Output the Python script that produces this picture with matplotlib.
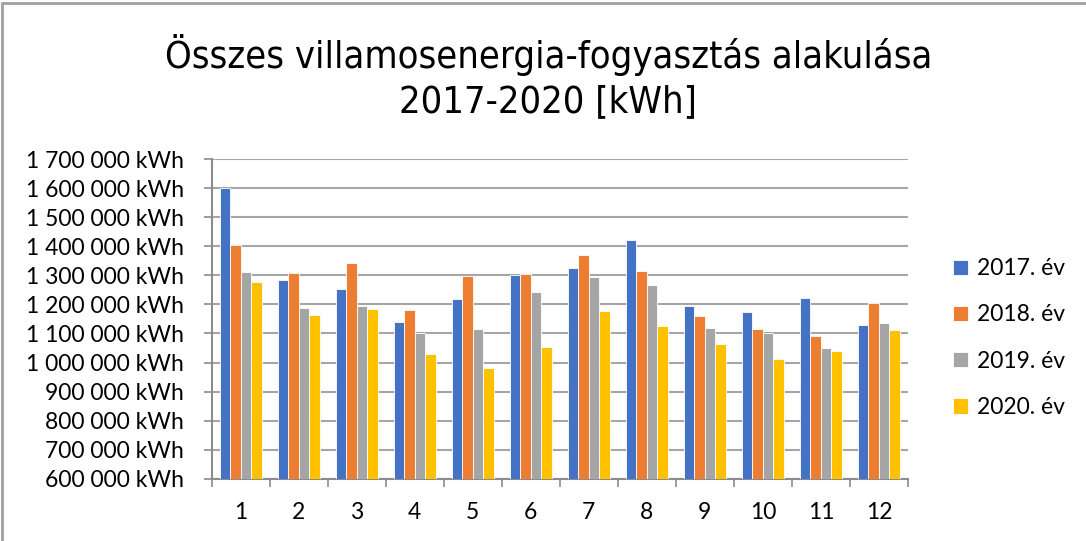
import matplotlib.pyplot as plt
import matplotlib.patches as mpatches
from matplotlib import font_manager
import numpy as np

months = [str(m) for m in range(1, 13)]
years = ["2017. év", "2018. év", "2019. év", "2020. év"]
colors = ["#4472c4", "#ed7d31", "#a5a5a5", "#ffc000"]

v2017 = [1600000, 1284000, 1253000, 1138000, 1217000, 1301000,
         1324000, 1422000, 1195000, 1175000, 1222000, 1130000]
v2018 = [1403000, 1309000, 1341000, 1182000, 1299000, 1305000,
         1371000, 1316000, 1161000, 1117000, 1091000, 1205000]
v2019 = [1310000, 1189000, 1193000, 1102000, 1114000, 1242000,
         1294000, 1266000, 1120000, 1101000, 1050000, 1135000]
v2020 = [1277000, 1162000, 1183000, 1030000, 981000, 1052000,
         1177000, 1125000, 1062000, 1012000, 1039000, 1113000]
series = [v2017, v2018, v2019, v2020]

# look for a condensed face for the title
title_prop = None
for f in font_manager.fontManager.ttflist:
    st = str(f.stretch).lower()
    if ("condensed" in st or "narrow" in f.name.lower() or "condensed" in f.name.lower()) \
            and f.weight in (400, "normal", "regular") and f.style == "normal":
        title_prop = font_manager.FontProperties(fname=f.fname, size=27.3)
        break
if title_prop is None:
    title_prop = font_manager.FontProperties(family="Roboto", size=27.3)
lab_font = "Lato"

fig = plt.figure(figsize=(10.86, 5.41), dpi=100)
ax = fig.add_axes([0.195, 0.115, 0.641, 0.591])

x = np.arange(len(months))
w = 0.18
for i, vals in enumerate(series):
    ax.bar(x + (i - 1.5) * w, vals, w, color=colors[i], edgecolor="white",
           linewidth=0.6, label=years[i], zorder=3)

ax.set_ylim(600000, 1700000)
ax.set_xlim(-0.5, 11.5)
yt = np.arange(600000, 1700001, 100000)
ax.set_yticks(yt)
ax.set_yticklabels([f"{v:,} kWh".replace(",", " ") for v in yt],
                   fontsize=16.5, family=lab_font)
ax.set_xticks(x)
ax.set_xticklabels(months, fontsize=16.5, family=lab_font)
ax.set_xticks(np.arange(-0.5, 12, 1), minor=True)
ax.tick_params(axis="x", which="major", length=0, pad=17)
ax.tick_params(axis="x", which="minor", length=6, color="#8c8c8c", width=1.2)
ax.tick_params(axis="y", length=6, color="#8c8c8c", width=1.2, pad=14)

ax.grid(axis="y", color="#a6a6a6", linewidth=1.5, zorder=0)
for s in ["top", "right"]:
    ax.spines[s].set_visible(False)
ax.spines["left"].set_color("#8c8c8c")
ax.spines["left"].set_linewidth(1.5)
ax.spines["bottom"].set_color("#8c8c8c")
ax.spines["bottom"].set_linewidth(1.5)

fig.text(0.505, 0.858, "Összes villamosenergia-fogyasztás alakulása\n2017-2020 [kWh]",
         ha="center", va="center", fontproperties=title_prop,
         linespacing=1.3)

ax.legend(loc="center left", bbox_to_anchor=(1.035, 0.44), frameon=False,
          prop={"family": lab_font, "size": 16.5}, handlelength=0.65,
          handleheight=0.65, labelspacing=1.1, handletextpad=0.4)

fig.patches.append(mpatches.Rectangle((0.002, -0.01), 1.5, 1.005,
                   transform=fig.transFigure, fill=False,
                   edgecolor="#a0a0a0", linewidth=2))

fig.savefig("out.png", dpi=100)
